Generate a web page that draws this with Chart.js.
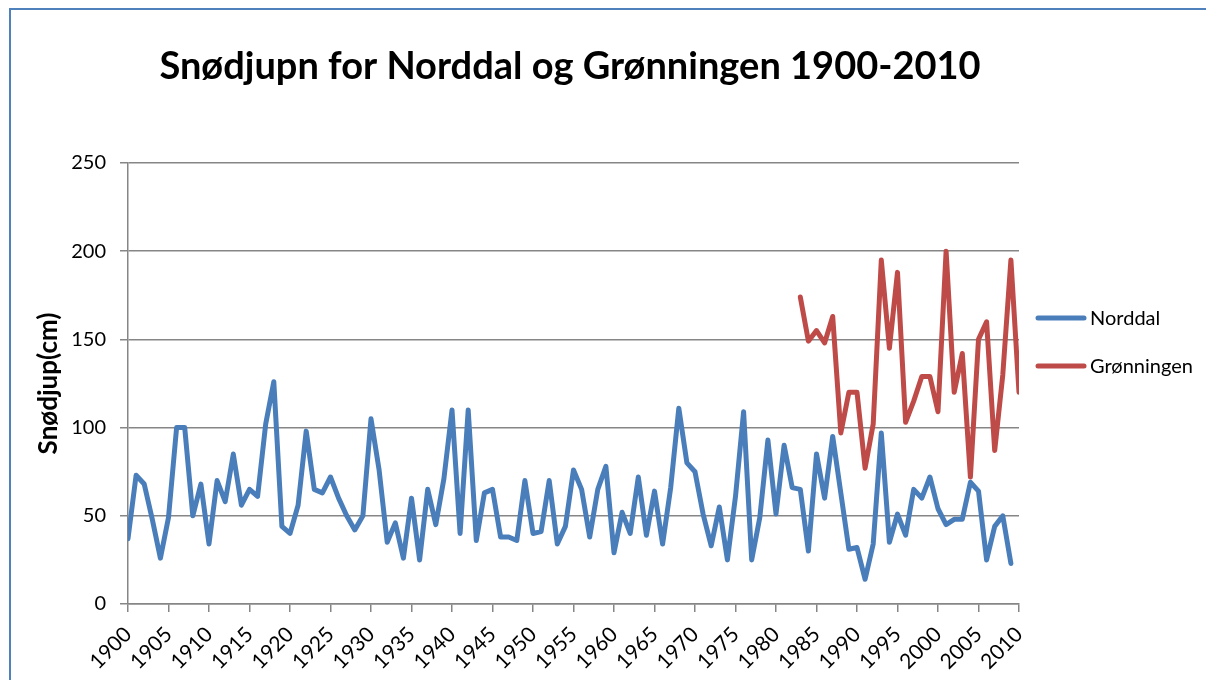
<!DOCTYPE html>
<html>
<head>
<meta charset="utf-8">
<script src="https://cdn.jsdelivr.net/npm/chart.js@4.4.0/dist/chart.umd.min.js"></script>
<style>
  html, body { margin: 0; padding: 0; background: #ffffff; }
  canvas { display: block; }
</style>
</head>
<body>
<canvas id="c" width="1206" height="680"></canvas>
<script>
const chartTitle = "Snødjupn for Norddal og Grønningen 1900-2010";
const yAxisTitle = "Snødjup(cm)";
const seriesNames = ["Norddal", "Grønningen"];

const years = [
  1900,1901,1902,1903,1904,1905,1906,1907,1908,1909,
  1910,1911,1912,1913,1914,1915,1916,1917,1918,1919,
  1920,1921,1922,1923,1924,1925,1926,1927,1928,1929,
  1930,1931,1932,1933,1934,1935,1936,1937,1938,1939,
  1940,1941,1942,1943,1944,1945,1946,1947,1948,1949,
  1950,1951,1952,1953,1954,1955,1956,1957,1958,1959,
  1960,1961,1962,1963,1964,1965,1966,1967,1968,1969,
  1970,1971,1972,1973,1974,1975,1976,1977,1978,1979,
  1980,1981,1982,1983,1984,1985,1986,1987,1988,1989,
  1990,1991,1992,1993,1994,1995,1996,1997,1998,1999,
  2000,2001,2002,2003,2004,2005,2006,2007,2008,2009,
  2010
];

const norddal = [
  37, 73, 68, 48, 26, 49, 100, 100, 50, 68,
  34, 70, 58, 85, 56, 65, 61, 102, 126, 44,
  40, 56, 98, 65, 63, 72, 60, 50, 42, 50,
  105, 76, 35, 46, 26, 60, 25, 65, 45, 71,
  110, 40, 110, 36, 63, 65, 38, 38, 36, 70,
  40, 41, 70, 34, 44, 76, 65, 38, 65, 78,
  29, 52, 40, 72, 39, 64, 34, 66, 111, 80,
  75, 51, 33, 55, 25, 61, 109, 25, 49, 93,
  51, 90, 66, 65, 30, 85, 60, 95, 63, 31,
  32, 14, 34, 97, 35, 51, 39, 65, 60, 72,
  54, 45, 48, 48, 69, 64, 25, 44, 50, 23,
  null
];

const gronningenStartYear = 1983;
const gronningen = [
  174, 149, 155, 148, 163, 97, 120, 120, 77, 102,
  195, 145, 188, 103, 115, 129, 129, 109, 200, 120,
  142, 72, 150, 160, 87, 130, 195, 120
];

const yTicks = [0, 50, 100, 150, 200, 250];
const xTickStep = 5;

const colors = ["#4a7ebb", "#be4b48"];
const FONT = "Lato, 'Open Sans', 'DejaVu Sans', sans-serif";

const norddalData = years.map((yr, i) => ({ x: yr, y: norddal[i] }));
const startIdx = years.indexOf(gronningenStartYear);
const gronningenData = gronningen.map((v, i) => ({ x: years[startIdx + i], y: v }));

const decor = {
  id: 'decor',
  beforeDraw(chart) {
    const ctx = chart.ctx;
    ctx.save();
    ctx.fillStyle = '#ffffff';
    ctx.fillRect(0, 0, chart.width, chart.height);
    ctx.strokeStyle = '#4f81bd';
    ctx.lineWidth = 2;
    ctx.beginPath();
    ctx.moveTo(10, chart.height + 5);
    ctx.lineTo(10, 9);
    ctx.lineTo(chart.width + 5, 9);
    ctx.stroke();
    ctx.restore();
  },
  afterDraw(chart) {
    const ctx = chart.ctx;
    ctx.save();
    // title
    ctx.fillStyle = '#000000';
    ctx.font = "bold 38px " + FONT;
    ctx.textAlign = 'center';
    ctx.textBaseline = 'middle';
    ctx.fillText(chartTitle, 570, 67);
    // legend
    const legendY = [318, 366];
    ctx.font = "20px " + FONT;
    ctx.textAlign = 'left';
    chart.data.datasets.forEach((ds, i) => {
      ctx.strokeStyle = ds.borderColor;
      ctx.lineWidth = 5;
      ctx.lineCap = 'round';
      ctx.beginPath();
      ctx.moveTo(1038, legendY[i]);
      ctx.lineTo(1084, legendY[i]);
      ctx.stroke();
      ctx.fillStyle = '#000000';
      ctx.fillText(ds.label, 1090, legendY[i] + 1);
    });
    ctx.restore();
  }
};

new Chart(document.getElementById('c'), {
  type: 'line',
  data: {
    datasets: [
      { label: seriesNames[0], data: norddalData, borderColor: colors[0], backgroundColor: colors[0] },
      { label: seriesNames[1], data: gronningenData, borderColor: colors[1], backgroundColor: colors[1] }
    ]
  },
  options: {
    responsive: false,
    devicePixelRatio: 1,
    animation: false,
    layout: { padding: { top: 163, right: 187, bottom: 0, left: 0 } },
    elements: {
      point: { radius: 0, hoverRadius: 0 },
      line: { borderWidth: 5, tension: 0, borderJoinStyle: 'round', borderCapStyle: 'round' }
    },
    plugins: {
      legend: { display: false },
      title: { display: false },
      tooltip: { enabled: false }
    },
    scales: {
      x: {
        type: 'linear',
        min: years[0],
        max: years[years.length - 1],
        afterFit(scale) { scale.height = 76; },
        afterBuildTicks(scale) {
          scale.ticks = years.filter(y => (y - years[0]) % xTickStep === 0).map(v => ({ value: v }));
        },
        ticks: {
          autoSkip: false,
          maxRotation: 45,
          minRotation: 45,
          color: '#000000',
          font: { family: FONT, size: 21 },
          padding: 10,
          callback: v => String(v)
        },
        grid: { drawOnChartArea: false, color: '#868686', tickLength: 8, lineWidth: 1.5 },
        border: { display: true, color: '#868686', width: 1.5 }
      },
      y: {
        min: 0,
        max: 250,
        afterFit(scale) { scale.width = 128; },
        afterBuildTicks(scale) { scale.ticks = yTicks.map(v => ({ value: v })); },
        ticks: {
          color: '#000000',
          font: { family: FONT, size: 20 },
          padding: 14,
          callback: v => String(v)
        },
        title: {
          display: true,
          text: yAxisTitle,
          color: '#000000',
          font: { family: FONT, size: 26, weight: 'bold' },
          padding: { top: 33, bottom: 0 }
        },
        grid: { color: '#868686', tickLength: 8, lineWidth: 1.5 },
        border: { display: true, color: '#868686', width: 1.5 }
      }
    }
  },
  plugins: [decor]
});
</script>
</body>
</html>
